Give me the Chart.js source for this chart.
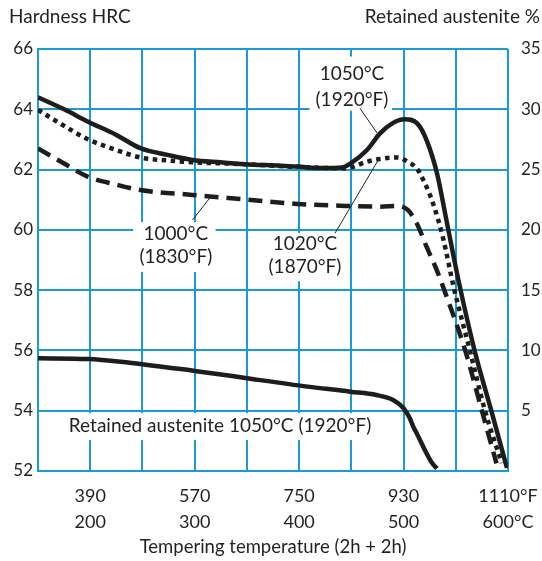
<!DOCTYPE html>
<html><head><meta charset="utf-8">
<script src="https://cdn.jsdelivr.net/npm/chart.js@4/dist/chart.umd.min.js"></script>
<style>html,body{margin:0;padding:0;background:#fff;}#wrap{width:542px;height:561px;}</style>
</head><body><div id="wrap"><canvas id="c" width="542" height="561"></canvas></div>
<script>
// ---- data (x = tempering temperature °C) ----
const xTickC = [200, 300, 400, 500, 600];
const xTickF = ['390', '570', '750', '930', '1110°F'];
const xTickCLabel = ['200', '300', '400', '500', '600°C'];

const temp1050 = [150, 175, 198, 225, 248, 275, 298, 325, 348, 382, 398, 423, 441, 449, 465, 477.5, 490, 501, 513, 522, 532, 541, 552.5, 568, 584, 599];
const hrc1050  = [64.40, 64.0, 63.59, 63.15, 62.71, 62.48, 62.32, 62.24, 62.18, 62.13, 62.10, 62.05, 62.07, 62.2, 62.65, 63.2, 63.55, 63.67, 63.53, 62.98, 61.88, 60.33, 58.34, 56.0, 54.0, 52.1];

const temp1020 = [150, 175, 198, 225, 248, 275, 298, 348, 398, 444, 465, 477, 494.5, 504, 512.6, 519, 528.5, 538, 548, 563.5, 578, 594];
const hrc1020  = [63.98, 63.45, 63.0, 62.65, 62.4, 62.3, 62.24, 62.18, 62.09, 62.04, 62.26, 62.35, 62.4, 62.26, 62.04, 61.65, 60.85, 59.7, 58.1, 56.0, 54.0, 52.26];

const temp1000 = [150, 175, 198, 225, 248, 298, 348, 398, 449, 477, 494.5, 504, 512.6, 522, 531.7, 539, 559, 575, 589];
const hrc1000  = [62.7, 62.2, 61.76, 61.5, 61.32, 61.16, 61.01, 60.86, 60.79, 60.77, 60.79, 60.66, 60.22, 59.44, 58.67, 58.0, 56.0, 54.0, 52.25];

const tempRA = [150, 198, 229, 300, 350, 401, 449, 474, 490, 500, 506, 509.3, 512.6, 522, 527, 532];
const pctRA  = [9.35, 9.29, 9.07, 8.3, 7.7, 7.08, 6.58, 6.3, 5.89, 5.2, 4.37, 3.67, 3.13, 1.47, 0.7, 0.2];

// ---- styling ----
const INK = '#231f20';
const BLUE = '#1a9bd7';
const FONT = 'Lato, "Open Sans", sans-serif';

const pts = (xs, ys) => xs.map((x, i) => ({x: x, y: ys[i]}));

// annotation boxes in data units (x: °C, y: HRC)
const notes = [
  {lines: ['1050°C', '(1920°F)'], cx: 450.6, ly: [65.17, 64.31], box: [410, 489, 65.75, 63.95], leader: [458.3, 64.03, 474.9, 63.2]},
  {lines: ['1000°C', '(1830°F)'], cx: 282, ly: [59.86, 59.11], box: [241, 320, 60.26, 58.6], leader: [298, 60.33, 315.4, 61.1]},
  {lines: ['1020°C', '(1870°F)'], cx: 405.6, ly: [59.53, 58.77], box: [365, 446, 59.9, 58.3], leader: [434.4, 59.89, 475.8, 62.32]},
  {lines: ['Retained austenite 1050°C (1920°F)'], cx: 324.3, ly: [53.49], box: [170, 478, 53.92, 53.03], leader: null}
];

const labelPlugin = {
  id: 'labels',
  beforeDatasetsDraw(chart) {
    const {ctx} = chart;
    const x = chart.scales.x, y = chart.scales.y;
    ctx.save();
    notes.forEach(n => {
      const x0 = x.getPixelForValue(n.box[0]), x1 = x.getPixelForValue(n.box[1]);
      const y0 = y.getPixelForValue(n.box[2]), y1 = y.getPixelForValue(n.box[3]);
      ctx.fillStyle = '#fff';
      ctx.fillRect(x0, y0, x1 - x0, y1 - y0);
    });
    notes.forEach(n => {
      ctx.fillStyle = INK;
      ctx.font = '19px ' + FONT;
      ctx.textAlign = 'center';
      ctx.textBaseline = 'middle';
      n.lines.forEach((t, i) => ctx.fillText(t, x.getPixelForValue(n.cx), y.getPixelForValue(n.ly[i])));
      if (n.leader) {
        ctx.strokeStyle = INK;
        ctx.lineWidth = 1;
        ctx.beginPath();
        ctx.moveTo(x.getPixelForValue(n.leader[0]), y.getPixelForValue(n.leader[1]));
        ctx.lineTo(x.getPixelForValue(n.leader[2]), y.getPixelForValue(n.leader[3]));
        ctx.stroke();
      }
    });
    ctx.restore();
  },
  afterDraw(chart) {
    const {ctx} = chart;
    ctx.save();
    ctx.fillStyle = INK;
    ctx.font = '19px ' + FONT;
    ctx.textBaseline = 'middle';
    ctx.textAlign = 'left';
    ctx.fillText('Hardness HRC', 9, 17);
    ctx.textAlign = 'right';
    ctx.fillText('Retained austenite %', 540, 17);
    ctx.restore();
  }
};

const common = {pointRadius: 0, borderColor: '#1d1d1b', borderWidth: 4.5, fill: false, cubicInterpolationMode: 'monotone'};

new Chart(document.getElementById('c'), {
  type: 'line',
  data: {
    datasets: [
      Object.assign({label: '1050°C', data: pts(temp1050, hrc1050), yAxisID: 'y'}, common),
      Object.assign({label: '1020°C', data: pts(temp1020, hrc1020), yAxisID: 'y', borderDash: [4.5, 4.5]}, common),
      Object.assign({label: '1000°C', data: pts(temp1000, hrc1000), yAxisID: 'y', borderDash: [14, 8]}, common),
      Object.assign({label: 'Retained austenite', data: pts(tempRA, pctRA), yAxisID: 'y2'}, common)
    ]
  },
  options: {
    responsive: false,
    animation: false,
    devicePixelRatio: 1,
    layout: {padding: {top: 49, left: 0, right: 0, bottom: 0}},
    plugins: {legend: {display: false}, tooltip: {enabled: false}},
    scales: {
      x: {
        type: 'linear', min: 150, max: 600,
        grid: {color: BLUE, lineWidth: 2, drawTicks: false},
        border: {color: BLUE, width: 2},
        ticks: {
          stepSize: 50, autoSkip: false, maxRotation: 0, padding: 12,
          color: INK, font: {family: FONT, size: 18, lineHeight: 1.45},
          callback: v => { const i = xTickC.indexOf(v); return i >= 0 ? [xTickF[i], xTickCLabel[i]] : ''; }
        },
        title: {display: true, text: 'Tempering temperature (2h + 2h)', color: INK, font: {family: FONT, size: 18.5}, padding: {top: 0, bottom: 3}},
        afterFit: s => { s.height = 90; s.paddingLeft = 0; s.paddingRight = 0; }
      },
      y: {
        position: 'left', min: 52, max: 66,
        grid: {color: BLUE, lineWidth: 2, drawTicks: false},
        border: {color: BLUE, width: 2},
        ticks: {stepSize: 2, padding: 5, color: INK, font: {family: FONT, size: 17}},
        afterFit: s => { s.width = 38; s.paddingTop = 0; s.paddingBottom = 0; }
      },
      y2: {
        position: 'right', min: 0, max: 35,
        grid: {display: false, drawTicks: false},
        border: {display: false},
        ticks: {stepSize: 5, padding: 13, color: INK, font: {family: FONT, size: 17}, callback: v => v === 0 ? '' : String(v)},
        afterFit: s => { s.width = 34; s.paddingTop = 0; s.paddingBottom = 0; }
      }
    }
  },
  plugins: [labelPlugin]
});
</script>
</body></html>
